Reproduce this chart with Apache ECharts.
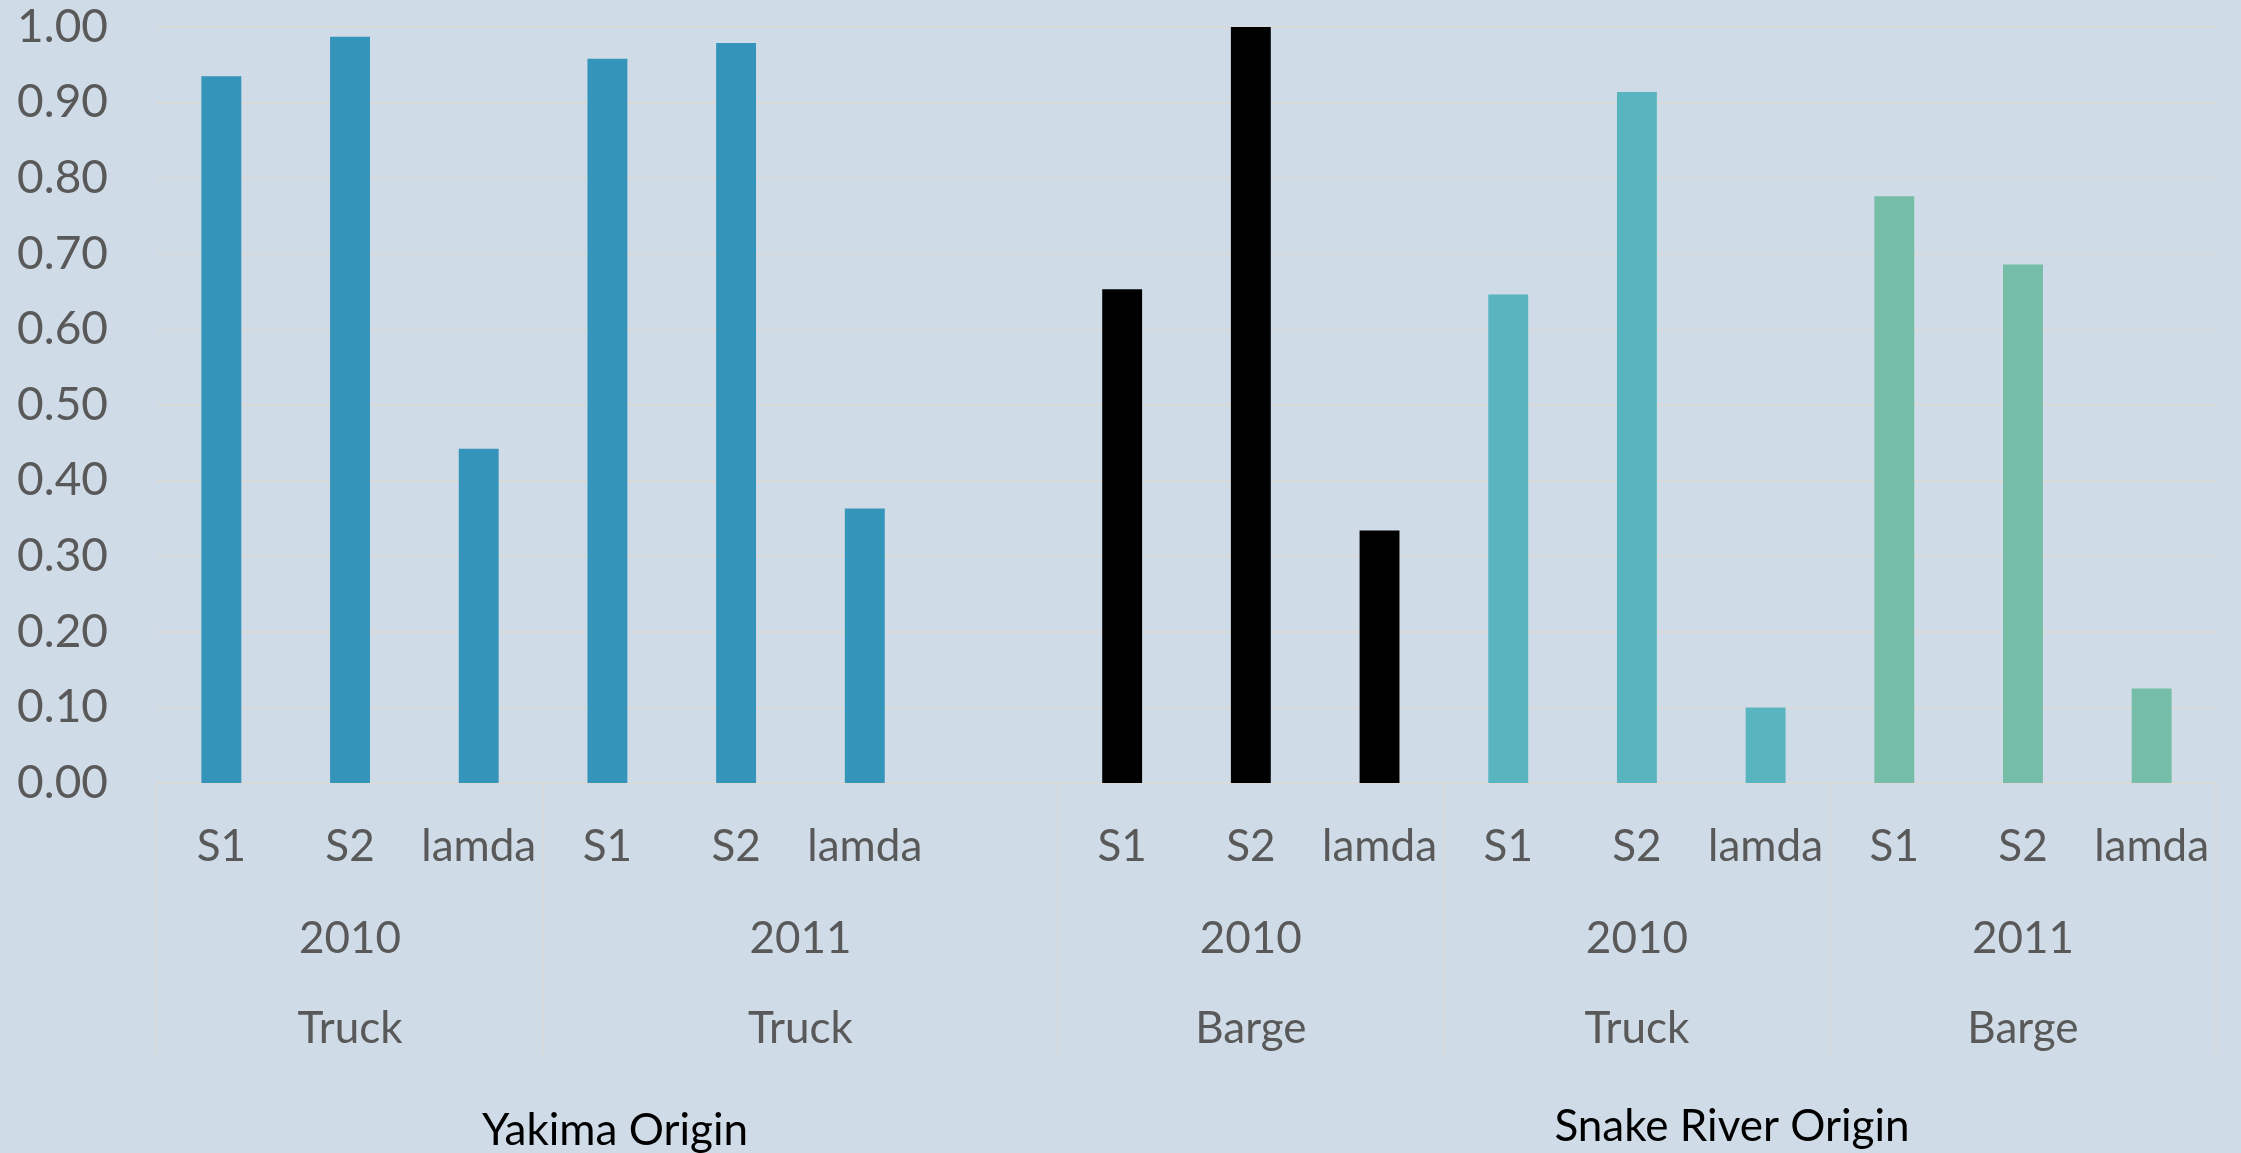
<!DOCTYPE html>
<html>
<head>
<meta charset="utf-8">
<script src="https://cdn.jsdelivr.net/npm/echarts@6/dist/echarts.min.js"></script>
<style>
  html, body { margin: 0; padding: 0; background: #CFDBE6; }
  #chart { width: 2241px; height: 1153px; }
</style>
</head>
<body>
<div id="chart"></div>
<script>
// bottom row of the axis, one entry per slot ('' = empty slot)
var subLabels = ['S1', 'S2', 'lamda', 'S1', 'S2', 'lamda', '', 'S1', 'S2', 'lamda', 'S1', 'S2', 'lamda', 'S1', 'S2', 'lamda'];
var barValues = [0.935, 0.987, 0.442, 0.958, 0.979, 0.363, null, 0.653, 1.00, 0.334, 0.646, 0.914, 0.100, 0.776, 0.686, 0.125];

// groups (year / transport)
var groupSizes = [3, 4, 3, 3, 3];
var groupYears = ['2010', '2011', '2010', '2010', '2011'];
var groupModes = ['Truck', 'Truck', 'Barge', 'Truck', 'Barge'];
var groupColors = ['#3494BA', '#3494BA', '#000000', '#58B5C0', '#75BDA7'];

var yTicks = [0, 1, 0.1];  // min, max, step
var origins = ['Yakima Origin', 'Snake River Origin'];

prepare_chart();

function prepare_chart() {
    var chart = echarts.init(document.getElementById('chart'), null, {renderer: 'canvas'});

    // colour of every slot
    var slotColors = [];
    groupSizes.forEach(function (n, g) {
        for (var i = 0; i < n; i++) slotColors.push(groupColors[g]);
    });

    // half-slot axis used for the group rows: index k sits at k/2 slots
    var nSlots = subLabels.length;
    var halfCats = [];
    for (var k = 0; k <= nSlots * 2; k++) halfCats.push(String(k));
    var boundaries = {0: true};
    var centerYear = {}, centerMode = {};
    var start = 0;
    groupSizes.forEach(function (n, g) {
        var c = start * 2 + n;   // centre in half slots
        centerYear[c] = groupYears[g];
        centerMode[c] = groupModes[g];
        start += n;
        boundaries[start * 2] = true;
    });

    var labelFont = {fontFamily: 'Lato', fontSize: 44, color: '#595959'};

    var option = {
        backgroundColor: '#CFDBE6',
        animation: false,
        grid: {left: 157, right: 25, top: 27, bottom: 370, containLabel: false},
        xAxis: [
            {
                type: 'category',
                position: 'bottom',
                data: subLabels,
                axisLine: {show: true, lineStyle: {color: '#D9D9D9', width: 2}},
                axisTick: {show: false},
                axisLabel: Object.assign({interval: 0, margin: 64, verticalAlign: 'middle'}, labelFont)
            },
            {
                type: 'category',
                position: 'bottom',
                boundaryGap: false,
                data: halfCats,
                min: 0, max: nSlots * 2,
                axisLine: {show: false},
                axisTick: {
                    show: true,
                    length: 272,
                    interval: function (idx) { return !!boundaries[idx]; },
                    lineStyle: {color: '#D9D9D9', width: 1.5}
                },
                axisLabel: Object.assign({
                    interval: 0, margin: 156, verticalAlign: 'middle',
                    formatter: function (v, idx) { return centerYear[idx] || ''; }
                }, labelFont)
            },
            {
                type: 'category',
                position: 'bottom',
                boundaryGap: false,
                data: halfCats,
                min: 0, max: nSlots * 2,
                axisLine: {show: false},
                axisTick: {show: false},
                axisLabel: Object.assign({
                    interval: 0, margin: 246, verticalAlign: 'middle',
                    formatter: function (v, idx) { return centerMode[idx] || ''; }
                }, labelFont)
            }
        ],
        yAxis: {
            type: 'value',
            min: yTicks[0],
            max: yTicks[1],
            interval: yTicks[2],
            axisLine: {show: false},
            axisTick: {show: false},
            splitLine: {lineStyle: {color: '#D9D9D9', width: 2}},
            axisLabel: {
                margin: 49,
                fontFamily: 'Lato',
                fontSize: 46,
                color: '#595959',
                formatter: function (v) { return v.toFixed(2); }
            }
        },
        graphic: [
            {
                type: 'text', x: 615, y: 1131,
                style: {text: origins[0], font: '44px Lato', fill: '#000', align: 'center', verticalAlign: 'middle'}
            },
            {
                type: 'text', x: 1732, y: 1127,
                style: {text: origins[1], font: '44px Lato', fill: '#000', align: 'center', verticalAlign: 'middle'}
            }
        ],
        series: [{
            type: 'bar',
            xAxisIndex: 0,
            barWidth: '31%',
            data: barValues.map(function (v, i) {
                return {value: v == null ? '-' : v, itemStyle: {color: slotColors[i]}};
            })
        }]
    };

    option && chart.setOption(option);
}
</script>
</body>
</html>
